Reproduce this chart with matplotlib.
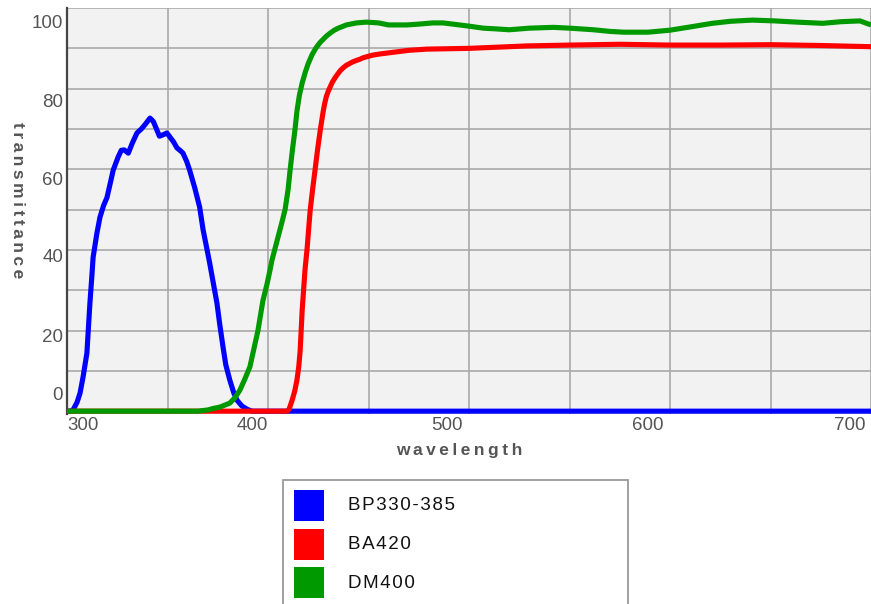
import matplotlib
matplotlib.use("Agg")
import matplotlib.pyplot as plt
from matplotlib.transforms import offset_copy
from matplotlib.patches import Rectangle

# ---------------- data ----------------
series_names = ["BP330-385", "BA420", "DM400"]
series_colors = ["#0000ff", "#ff0000", "#009900"]

bp_nm = [300, 302, 303, 305, 306.5, 308, 309.9, 311.4, 312.3, 313, 314.9, 316.4, 318.2, 319.9,
         321.5, 323, 325.4, 327, 328.5, 330.5, 332.5, 334.8, 337, 339, 341.3, 343, 344.5, 346,
         348, 349.7, 351.5, 353, 354.7, 356.2, 357.7, 359.5, 361, 363.5, 366, 367.7, 369.5, 371,
         373, 374.6, 376, 377.6, 379, 381, 383, 384.6, 387, 389.5, 392, 700]
bp_t = [0, 0, 0.3, 2.2, 4.5, 8.5, 14.4, 26.8, 33, 38.2, 44.2, 48.1, 51, 53,
        56.5, 59.8, 63, 64.7, 64.8, 64, 66.5, 69, 70, 71.2, 72.7, 71.8, 70, 68.2,
        68.6, 69, 67.8, 66.8, 65.3, 64.7, 64, 62, 59.8, 55.5, 50.6, 45, 40.5, 36.7,
        31.2, 26.8, 21.5, 16, 11.5, 7.7, 4.5, 2.7, 1.3, 0.5, 0, 0]

ba_nm = [300, 409.5, 410.5, 412, 413.3, 414.4, 415.3, 416, 416.5, 417, 417.7, 418.4, 419.4,
         420.2, 421, 422.2, 423.4, 424.7, 426, 427.4, 428.2, 429, 430, 431, 432, 433.5, 434.5,
         436, 437.5, 439, 440.5, 442, 444, 445.8, 447, 449, 452, 455.7, 462, 470, 479, 490,
         500.5, 515, 529, 550, 575, 600, 625, 650, 675, 700]
ba_t = [0, 0, 0.5, 2.7, 5, 7.7, 11, 15, 20, 25, 30, 35, 40,
        45, 49.9, 55, 59.8, 65, 69.7, 74.2, 76.3, 78, 79.4, 80.5, 81.6, 82.8, 83.5,
        84.5, 85.2, 85.8, 86.2, 86.6, 87, 87.3, 87.6, 87.9, 88.3, 88.6, 89, 89.5, 89.8, 89.9,
        90, 90.3, 90.6, 90.8, 91, 90.8, 90.8, 90.9, 90.7, 90.4]

dm_nm = [300, 365, 370, 373, 376, 378.5, 381, 383.5, 386, 388.5, 391, 393, 395, 397.5, 399.5,
         401, 402, 405, 407, 408.5, 410, 411, 412.2, 413.4, 414.4, 415.6, 417, 418.5, 420, 422,
         424, 426, 429, 431, 433, 435, 437, 439, 442, 444, 449, 455, 460, 469, 475, 482, 487,
         492, 500, 507, 514, 520, 530, 542, 550, 562, 570, 577, 589, 600, 610, 621, 630, 641,
         652, 663, 676, 685, 694.5, 700]
dm_t = [0, 0, 0.3, 0.7, 1, 1.5, 2, 3.3, 5.2, 8, 11, 15.5, 20, 27.5, 31.5,
        35, 37.5, 43.2, 47, 50, 55, 59.8, 65, 69.7, 74.4, 78.3, 81.4, 84, 86.2, 88.5,
        90.2, 91.5, 93, 93.8, 94.5, 95, 95.4, 95.8, 96.1, 96.3, 96.5, 96.3, 95.8, 95.8, 96,
        96.3, 96.3, 96, 95.5, 95, 94.8, 94.6, 95, 95.2, 95, 94.6, 94.2, 94, 94, 94.5, 95.3,
        96.2, 96.7, 97, 96.8, 96.5, 96.2, 96.6, 96.8, 95.8]

x_tick_values = [300, 400, 500, 600, 700]
x_tick_labels = ["300", "400", "500", "600", "700"]
y_tick_values = [100, 80, 60, 40, 20, 0]
y_tick_labels = ["100", "80", "60", "40", "20", "0"]

# ---------------- styling ----------------
W, H, DPI = 871, 604, 100
fig = plt.figure(figsize=(W / DPI, H / DPI), dpi=DPI)
fig.patch.set_facecolor("white")

L, R, T, B = 67, 871, 8, 414
ax = fig.add_axes([L / W, (H - B) / H, (R - L) / W, (B - T) / H])
ax.set_facecolor("#f2f2f2")
ax.set_xlim(300, 700)
ax.set_ylim(-0.7, 100)

grid_c = "#a9a9a9"
ax.set_xticks(range(300, 701, 50))
ax.set_yticks(range(0, 101, 10))
ax.grid(True, color=grid_c, lw=1.2, zorder=0)
ax.set_axisbelow(True)
ax.tick_params(length=0, labelbottom=False, labelleft=False)
for s in ["top", "right", "bottom"]:
    ax.spines[s].set_visible(False)
ax.spines["left"].set_color("#444444")
ax.spines["left"].set_linewidth(1.6)

lines = [(bp_nm, bp_t), (ba_nm, ba_t), (dm_nm, dm_t)]
for i, ((xs, ys), c) in enumerate(zip(lines, series_colors)):
    ax.plot(xs, ys, color=c, lw=3.7, solid_joinstyle="round", solid_capstyle="butt",
            zorder=3 + i, clip_on=False)

# tick labels (positioned as in the original chart)
fam = ["Liberation Sans", "DejaVu Sans"]
tick_font = dict(family=fam, fontsize=13.5, color="#555555")
x_nudge_px = [16, -16, -22, -22, -21]
for v, lab, dx in zip(x_tick_values, x_tick_labels, x_nudge_px):
    tr = offset_copy(ax.get_xaxis_transform(), fig=fig, x=dx, y=-11, units="dots")
    ax.text(v, 0, lab, transform=tr, ha="center", va="center", **tick_font)

y_nudge_px = [15, 14, 11, 8, 7, -16]
for v, lab, dy in zip(y_tick_values, y_tick_labels, y_nudge_px):
    tr = offset_copy(ax.get_yaxis_transform(), fig=fig, x=-4, y=-dy, units="dots")
    ax.text(0, v, lab, transform=tr, ha="right", va="center", **tick_font)

# axis titles (letter-spaced)
def spaced(s, sep="\u2009"):
    return sep.join(s)

fig.text(459 / W, 1 - 450 / H, spaced("wavelength"), ha="center", va="center",
         family=fam, fontweight="bold", fontsize=12.5, color="#555555")
fig.text(17 / W, 1 - 200 / H, spaced("transmittance"), ha="center", va="center",
         rotation=-90, family=fam, fontweight="bold", fontsize=12.5, color="#555555")

# legend (box cut off at the bottom edge, as in the original)
ov = fig.add_axes([0, 0, 1, 1], zorder=10)
ov.set_xlim(0, W)
ov.set_ylim(H, 0)
ov.axis("off")
ov.add_patch(Rectangle((283, 480), 345, 140, facecolor="white", edgecolor="#9a9a9a",
                       lw=1.3, clip_on=False))
for k, (name, c) in enumerate(zip(series_names, series_colors)):
    y0 = 490 + k * 38.5
    ov.add_patch(Rectangle((294, y0), 30, 31, facecolor=c, edgecolor="none"))
    ov.text(348, y0 + 16, spaced(name, "\u200a"), ha="left", va="center", family=fam,
            fontsize=13.5, color="#111111")

fig.savefig("out.png", dpi=DPI)
